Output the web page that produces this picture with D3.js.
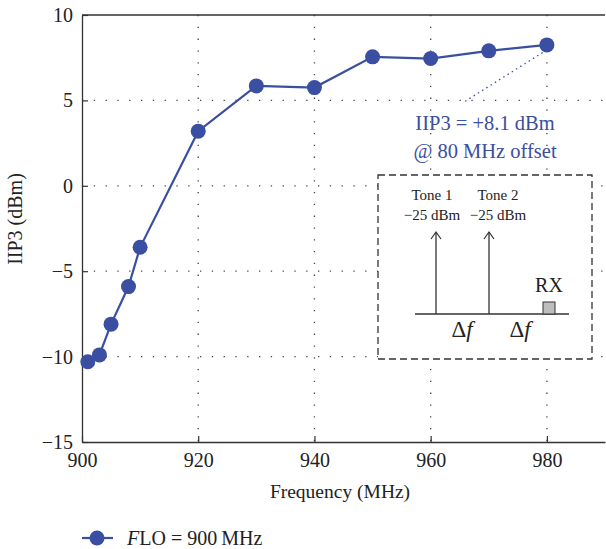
<!DOCTYPE html>
<html>
<head>
<meta charset="utf-8">
<script src="https://cdn.jsdelivr.net/npm/d3@7"></script>
<style>
  body { margin: 0; background: #fff; }
  text { font-family: "Liberation Serif", "DejaVu Serif", serif; fill: #222; }
</style>
</head>
<body>
<div id="chart"></div>
<script>
// data
var freqs = [901, 903, 905, 908, 910, 920, 930, 940, 950, 960, 970, 980];
var iip3 = [-10.3, -9.9, -8.1, -5.9, -3.6, 3.2, 5.85, 5.75, 7.55, 7.45, 7.9, 8.25];
var xTicks = [900, 920, 940, 960, 980];
var yTicks = [-15, -10, -5, 0, 5, 10];
var gridX = [920, 940, 960, 980];
var gridY = [-10, -5, 0, 5];

var width = 606, height = 549;
var blue = "#3a4ea2";

var svg = d3.select("#chart")
    .append("svg")
    .attr("width", width)
    .attr("height", height);

//scales
var x = d3.scaleLinear().domain([900, 990]).range([82, 605]);
var y = d3.scaleLinear().domain([-15, 10]).range([442, 15]);

// dotted grid
svg.selectAll(".gx")
    .data(gridX)
    .enter()
    .append("line")
    .attr("x1", function(d) { return x(d); })
    .attr("x2", function(d) { return x(d); })
    .attr("y1", y(10))
    .attr("y2", y(-15))
    .style("stroke", "#444")
    .style("stroke-width", 1.3)
    .style("stroke-dasharray", "1.3,10.5");

svg.selectAll(".gy")
    .data(gridY)
    .enter()
    .append("line")
    .attr("x1", x(900))
    .attr("x2", x(990))
    .attr("y1", function(d) { return y(d); })
    .attr("y2", function(d) { return y(d); })
    .style("stroke", "#444")
    .style("stroke-width", 1.3)
    .style("stroke-dasharray", "1.3,10.5");

// axes (ticks inward)
var xAxis = d3.axisBottom(x).tickValues(xTicks).tickSizeInner(-6).tickSizeOuter(0).tickPadding(9);
var yAxis = d3.axisLeft(y).tickValues(yTicks).tickSizeInner(-6).tickSizeOuter(0).tickPadding(9)
    .tickFormat(function(d) { return d < 0 ? "\u2212" + Math.abs(d) : d; });

var gx = svg.append("g").attr("transform", "translate(0," + y(-15) + ")").call(xAxis);
var gy = svg.append("g").attr("transform", "translate(" + x(900) + ",0)").call(yAxis);
[gx, gy].forEach(function(g) {
    g.select(".domain").style("stroke", "#333").style("stroke-width", 1.3);
    g.selectAll(".tick line").style("stroke", "#333").style("stroke-width", 1.2);
    g.selectAll(".tick text").style("font-size", "20px").style("fill", "#222")
        .style("font-family", "'Liberation Serif', serif");
});
gx.selectAll(".tick text").attr("dy", "0.8em");

// top frame line
svg.append("line")
    .attr("x1", x(900)).attr("x2", x(990))
    .attr("y1", y(10)).attr("y2", y(10))
    .style("stroke", "#333").style("stroke-width", 1.3);

// axis titles
svg.append("text")
    .attr("x", 340).attr("y", 498)
    .attr("text-anchor", "middle")
    .style("font-size", "19.5px")
    .text("Frequency (MHz)");

svg.append("text")
    .attr("transform", "translate(22,219) rotate(-90)")
    .attr("text-anchor", "middle")
    .style("font-size", "20px")
    .text("IIP3 (dBm)");

// annotation
svg.append("line")
    .attr("x1", x(980)).attr("y1", y(8.25) + 5)
    .attr("x2", 464).attr("y2", 102)
    .style("stroke", blue).style("stroke-width", 1.3)
    .style("stroke-dasharray", "1.5,3.5");

svg.append("text")
    .attr("x", 485).attr("y", 130)
    .attr("text-anchor", "middle")
    .style("font-size", "20.5px").style("fill", blue)
    .text("IIP3 = +8.1 dBm");
svg.append("text")
    .attr("x", 485).attr("y", 158)
    .attr("text-anchor", "middle")
    .style("font-size", "20.5px").style("fill", blue)
    .text("@ 80 MHz offset");

// inset box
var inset = svg.append("g");
inset.append("rect")
    .attr("x", 378).attr("y", 175)
    .attr("width", 214).attr("height", 184)
    .style("fill", "#fff")
    .style("stroke", "#333").style("stroke-width", 1.3)
    .style("stroke-dasharray", "7,4");

inset.append("line")
    .attr("x1", 415).attr("x2", 569).attr("y1", 314).attr("y2", 314)
    .style("stroke", "#333").style("stroke-width", 1.3);

var tones = [{ x: 436, name: "Tone 1" }, { x: 489, name: "Tone 2" }];
tones.forEach(function(t) {
    inset.append("line")
        .attr("x1", t.x).attr("x2", t.x).attr("y1", 314).attr("y2", 232)
        .style("stroke", "#333").style("stroke-width", 1.3);
    inset.append("path")
        .attr("d", "M" + (t.x - 5) + ",239 L" + t.x + ",232 L" + (t.x + 5) + ",239")
        .style("fill", "none").style("stroke", "#333").style("stroke-width", 1.2);
});
inset.append("text").attr("x", 432).attr("y", 200).attr("text-anchor", "middle")
    .style("font-size", "15px").text("Tone 1");
inset.append("text").attr("x", 432).attr("y", 220).attr("text-anchor", "middle")
    .style("font-size", "15px").text("\u221225 dBm");
inset.append("text").attr("x", 498).attr("y", 200).attr("text-anchor", "middle")
    .style("font-size", "15px").text("Tone 2");
inset.append("text").attr("x", 498).attr("y", 220).attr("text-anchor", "middle")
    .style("font-size", "15px").text("\u221225 dBm");

inset.append("rect")
    .attr("x", 543).attr("y", 302).attr("width", 12).attr("height", 12)
    .style("fill", "#bdbdbd").style("stroke", "#333").style("stroke-width", 1);
inset.append("text").attr("x", 549).attr("y", 292).attr("text-anchor", "middle")
    .style("font-size", "20px").text("RX");

[462, 520].forEach(function(cx) {
    var t = inset.append("text").attr("x", cx).attr("y", 337).attr("text-anchor", "middle")
        .style("font-size", "23px");
    t.append("tspan").text("\u0394");
    t.append("tspan").style("font-style", "italic").text("f");
});

// data line and markers
var line = d3.line()
    .x(function(d, i) { return x(freqs[i]); })
    .y(function(d) { return y(d); });

svg.append("path")
    .datum(iip3)
    .attr("d", line)
    .style("fill", "none")
    .style("stroke", blue)
    .style("stroke-width", 2.2);

svg.selectAll(".pt")
    .data(iip3)
    .enter()
    .append("circle")
    .attr("cx", function(d, i) { return x(freqs[i]); })
    .attr("cy", function(d) { return y(d); })
    .attr("r", 7.5)
    .style("fill", blue);

// legend
svg.append("line")
    .attr("x1", 82).attr("x2", 113).attr("y1", 538).attr("y2", 538)
    .style("stroke", blue).style("stroke-width", 2.2);
svg.append("circle").attr("cx", 97).attr("cy", 538).attr("r", 7.5).style("fill", blue);
var lg = svg.append("text").attr("x", 127).attr("y", 545).style("font-size", "20px");
lg.append("tspan").style("font-style", "italic").text("F");
lg.append("tspan").text("LO = 900\u2009MHz");
</script>
</body>
</html>
